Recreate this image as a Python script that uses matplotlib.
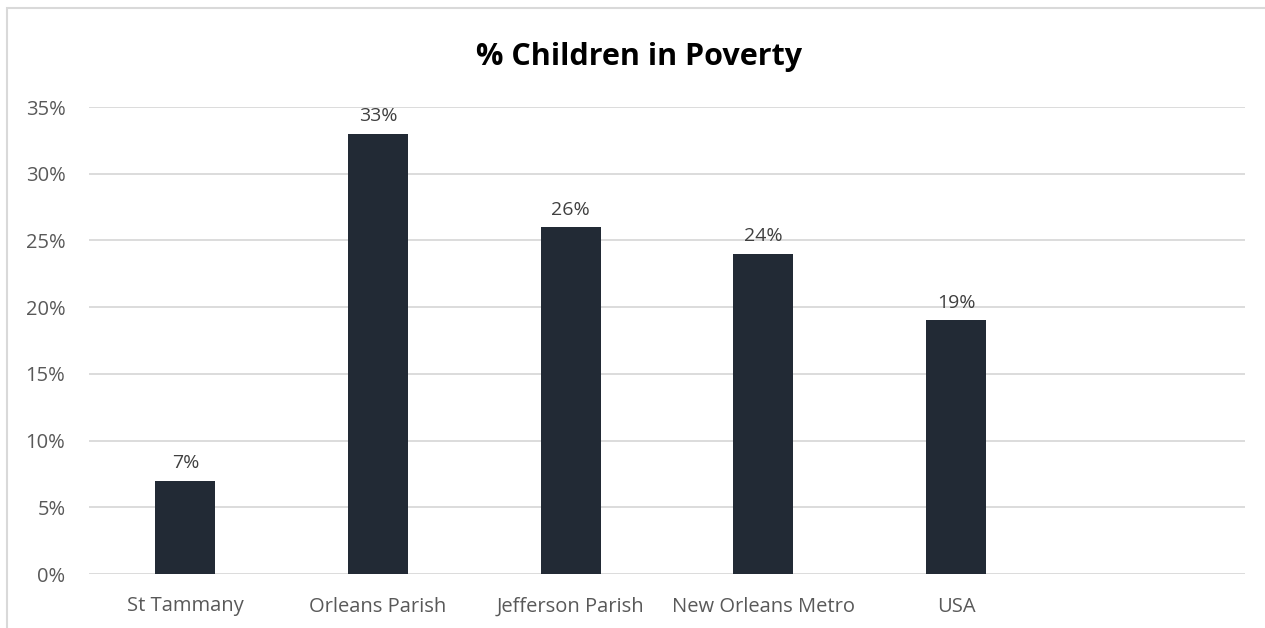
import matplotlib
matplotlib.use("Agg")
import matplotlib.pyplot as plt
from matplotlib.patches import Rectangle

categories = ["St Tammany", "Orleans Parish", "Jefferson Parish", "New Orleans Metro", "USA", ""]
values = [7, 33, 26, 24, 19, None]
labels = ["7%", "33%", "26%", "24%", "19%", ""]
yticks = [0, 5, 10, 15, 20, 25, 30, 35]
ytick_labels = ["0%", "5%", "10%", "15%", "20%", "25%", "30%", "35%"]
title = "% Children in Poverty"

plt.rcParams['font.family'] = ['Open Sans', 'DejaVu Sans']

W, H = 1265, 628
fig = plt.figure(figsize=(W / 100, H / 100), dpi=100)
fig.patch.set_facecolor("white")

# chart border (cropped on right/bottom)
fig.patches.append(Rectangle((7 / W, -0.1), 1.2, 1 - 8 / H + 0.1, transform=fig.transFigure,
                             fill=False, edgecolor="#d9d9d9", linewidth=1.5))

ax = fig.add_axes([89 / W, 1 - 574 / H, (1245 - 89) / W, (574 - 107) / H])
x = list(range(len(categories)))
vals = [v if v is not None else 0 for v in values]
bars = ax.bar(x, vals, width=0.31, color="#222a35", zorder=3)
ax.set_xlim(-0.5, len(categories) - 0.5)
ax.set_ylim(0, 35)
ax.set_yticks(yticks)
ax.set_yticklabels(ytick_labels)
ax.set_xticks(x)
ax.set_xticklabels(categories)
ax.grid(axis="y", color="#d9d9d9", linewidth=1.3, zorder=0)
for s in ax.spines.values():
    s.set_visible(False)
ax.tick_params(axis="both", length=0, labelsize=14.5, colors="#595959")
ax.tick_params(axis="y", pad=17)
ax.tick_params(axis="x", pad=27)
for t in ax.get_xticklabels():
    t.set_verticalalignment("baseline")

for xi, v, lab in zip(x, values, labels):
    if v is None:
        continue
    ax.annotate(lab, (xi, v), xytext=(0, 6), textcoords="offset points",
                ha="center", va="bottom", fontsize=14, color="#404040")

fig.text(639 / W, 1 - 57 / H, title, ha="center", va="center",
         fontsize=22, fontweight="bold", color="black")

fig.savefig("out.png", dpi=100)
